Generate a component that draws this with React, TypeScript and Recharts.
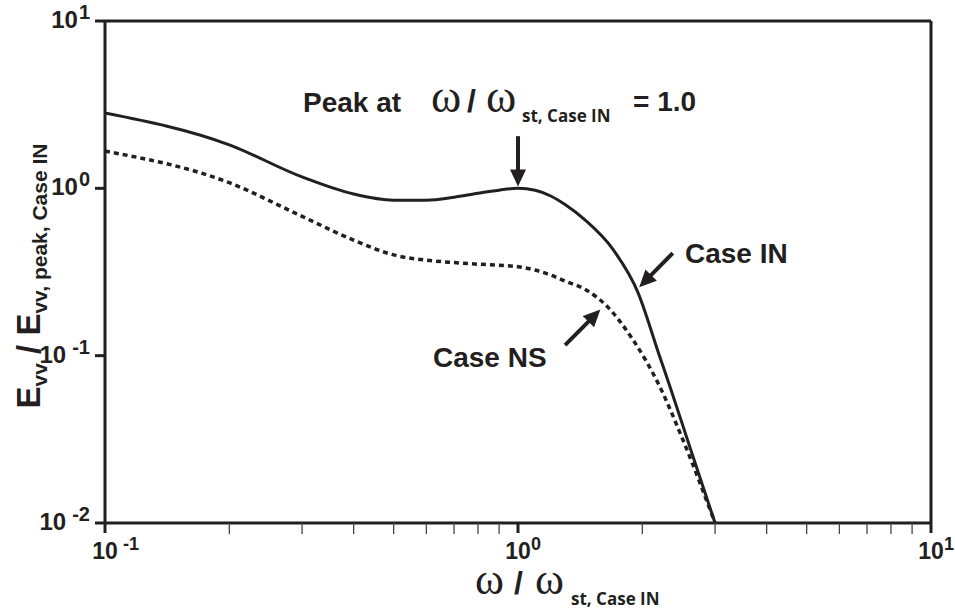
import React from "react";
import { LineChart, Line, XAxis, YAxis, ReferenceLine } from "recharts";

// normalised frequency (omega / omega_st) and energy for each case
const caseInFreq = [0.1, 0.2, 0.3, 0.4, 0.5, 0.6, 0.7, 0.8, 0.9, 1.0, 1.1, 1.2, 1.3, 1.45, 1.7, 1.95, 2.2, 2.35, 2.6, 3.0];
const caseInEnergy = [2.82, 1.82, 1.17, 0.925, 0.85, 0.85, 0.885, 0.935, 0.975, 1.0, 0.975, 0.9, 0.8, 0.65, 0.43, 0.24, 0.1, 0.062, 0.029, 0.01];

const caseNsFreq = [0.1, 0.2, 0.3, 0.4, 0.5, 0.6, 0.7, 0.8, 0.9, 1.0, 1.1, 1.2, 1.3, 1.45, 1.65, 1.9, 2.2, 2.5, 3.0];
const caseNsEnergy = [1.67, 1.08, 0.68, 0.49, 0.4, 0.372, 0.36, 0.352, 0.347, 0.34, 0.325, 0.303, 0.279, 0.25, 0.195, 0.124, 0.066, 0.032, 0.01];

const xTicks = [0.1, 0.2, 0.3, 0.4, 0.5, 0.6, 0.7, 0.8, 0.9, 1, 2, 3, 4, 5, 6, 7, 8, 9, 10];
const yTicks = [0.01, 0.1, 1, 10];

const caseIn = caseInFreq.map((f, i) => ({ f, e: caseInEnergy[i] }));
const caseNs = caseNsFreq.map((f, i) => ({ f, e: caseNsEnergy[i] }));

const INK = "#231f20";
const SANS = "'Liberation Sans', Arial, sans-serif";
const SERIF = "'Liberation Serif', 'Times New Roman', serif";
const SUB = "'Open Sans', 'Liberation Sans', sans-serif";

const bold = { fontFamily: SANS, fontWeight: 700 };

const isDecade = (v: number) => Math.abs(Math.log10(v) - Math.round(Math.log10(v))) < 1e-6;

function XTick({ x, y, payload }: any) {
  const v = payload.value;
  if (!isDecade(v)) {
    return <line x1={x} y1={y} x2={x} y2={y + 11} stroke="#444" strokeWidth={1.3} />;
  }
  const exp = Math.round(Math.log10(v));
  return (
    <g>
      <line x1={x} y1={y} x2={x} y2={y + 10} stroke={INK} strokeWidth={3} />
      <text x={x} y={y + 36} textAnchor="middle" fontSize={23} fill={INK} style={bold}>
        10
      </text>
      <text x={x + (exp < 0 ? 18 : 13)} y={y + 27} fontSize={18} fill={INK} style={bold}>
        {exp}
      </text>
    </g>
  );
}

function YTick({ x, y, payload }: any) {
  const exp = Math.round(Math.log10(payload.value));
  return (
    <g>
      <line x1={x - 10} y1={y} x2={x} y2={y} stroke={INK} strokeWidth={3} />
      <text x={x - 15} y={y + 7} textAnchor="end" fontSize={24} fill={INK} style={bold}>
        10
        <tspan dx={exp < 0 ? 6 : 1} dy={-9} fontSize={20}>
          {exp}
        </tspan>
      </text>
    </g>
  );
}

const arrow = { stroke: INK, strokeWidth: 4, markerEnd: "url(#arrowHead)" };

export default function App() {
  return (
    <div style={{ position: "absolute", left: 0, top: 0, background: "#fff" }}>
      <LineChart width={955} height={611} margin={{ top: 20, right: 23, bottom: 48, left: 45 }}>
        <defs>
          <marker id="arrowHead" markerUnits="userSpaceOnUse" markerWidth={18} markerHeight={16} refX={10} refY={8} orient="auto">
            <path d="M0,0 L17,8 L0,16 z" fill={INK} />
          </marker>
        </defs>
        <XAxis
          dataKey="f"
          type="number"
          scale="log"
          domain={[0.1, 10]}
          ticks={xTicks}
          interval={0}
          height={40}
          tickSize={0}
          tickMargin={0}
          tickLine={false}
          tick={<XTick />}
          axisLine={{ stroke: INK, strokeWidth: 3 }}
          allowDataOverflow
        />
        <XAxis
          xAxisId="top"
          orientation="top"
          type="number"
          scale="log"
          domain={[0.1, 10]}
          height={1}
          tick={false}
          tickLine={false}
          axisLine={{ stroke: INK, strokeWidth: 3 }}
        />
        <YAxis
          type="number"
          scale="log"
          domain={[0.01, 10]}
          ticks={yTicks}
          interval={0}
          width={60}
          tickSize={0}
          tickMargin={0}
          tickLine={false}
          tick={<YTick />}
          axisLine={{ stroke: INK, strokeWidth: 3 }}
          allowDataOverflow
        />
        <YAxis
          yAxisId="right"
          orientation="right"
          type="number"
          scale="log"
          domain={[0.01, 10]}
          width={1}
          tick={false}
          tickLine={false}
          axisLine={{ stroke: INK, strokeWidth: 3 }}
        />

        <Line data={caseNs} dataKey="e" type="monotone" stroke={INK} strokeWidth={3.5} strokeDasharray="5 4" dot={false} isAnimationActive={false} />
        <Line data={caseIn} dataKey="e" type="monotone" stroke={INK} strokeWidth={3} dot={false} isAnimationActive={false} />

        <ReferenceLine segment={[{ x: 1.0, y: 2.05 }, { x: 1.0, y: 1.13 }]} {...arrow} />
        <ReferenceLine segment={[{ x: 2.37, y: 0.41 }, { x: 2.02, y: 0.275 }]} {...arrow} />
        <ReferenceLine segment={[{ x: 1.3, y: 0.1156 }, { x: 1.54, y: 0.176 }]} {...arrow} />

        <text x={303} y={112} fontSize={28} fill={INK} style={bold}>Peak at</text>
        <text x={431} y={112} fontFamily={SERIF} fontSize={46} fill={INK}>ω</text>
        <text x={467} y={112} fontSize={32} fill={INK} style={bold}>/</text>
        <text x={486} y={112} fontFamily={SERIF} fontSize={46} fill={INK}>ω</text>
        <text x={522} y={122} fontFamily={SUB} fontWeight="bold" fontSize={17} fill={INK}>st, Case IN</text>
        <text x={633} y={111} fontSize={28} fill={INK} style={bold}>= 1.0</text>

        <text x={685} y={263} fontSize={28} fill={INK} style={bold}>Case IN</text>
        <text x={433} y={367} fontSize={28} fill={INK} style={bold}>Case NS</text>

        <text x={475} y={594} fontFamily={SERIF} fontSize={44} fill={INK}>ω</text>
        <text x={514} y={594} fontSize={32} fill={INK} style={bold}>/</text>
        <text x={535} y={594} fontFamily={SERIF} fontSize={44} fill={INK}>ω</text>
        <text x={571} y={605} fontFamily={SUB} fontWeight="bold" fontSize={17} fill={INK}>st, Case IN</text>

        <text x={40} y={276} transform="rotate(-90 40 276)" textAnchor="middle" fontSize={33} fill={INK} style={bold}>
          E
          <tspan dy={7} fontSize={21}>vv</tspan>
          <tspan dy={-7}> / E</tspan>
          <tspan dy={7} fontSize={21}>vv, peak, Case IN</tspan>
        </text>
      </LineChart>
    </div>
  );
}
